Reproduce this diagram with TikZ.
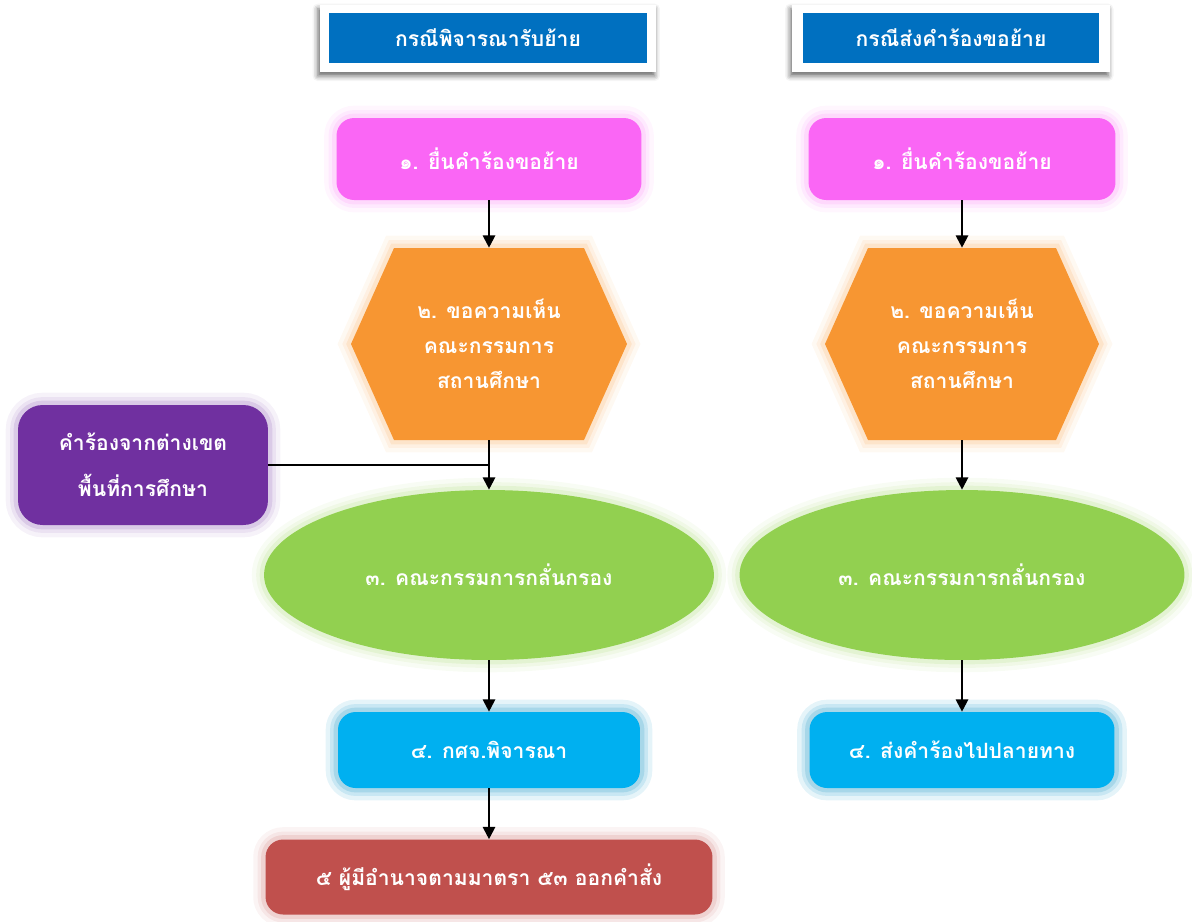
\documentclass[tikz,border=0pt]{standalone}
\usepackage{fontspec}
\newfontfamily\thaifont[Script=Thai]{Loma}
\usetikzlibrary{shapes.geometric,arrows.meta,shadows.blur}
\definecolor{headblue}{RGB}{0,112,192}
\definecolor{stepone}{RGB}{250,102,245}
\definecolor{steptwo}{RGB}{247,150,50}
\definecolor{stepthree}{RGB}{146,208,80}
\definecolor{stepfour}{RGB}{0,176,240}
\definecolor{stepfive}{RGB}{192,80,77}
\definecolor{otherarea}{RGB}{112,48,160}
\definecolor{fourglow}{RGB}{140,190,210}

\begin{document}
\begin{tikzpicture}[x=0.02cm, y=-0.02cm,
    font=\thaifont\bfseries\fontsize{12}{20}\selectfont, text=white,
    halo/.style={preaction={draw=#1, line width=14pt, opacity=.1},
                 preaction={draw=#1, line width=9pt, opacity=.15},
                 preaction={draw=#1, line width=5pt, opacity=.25}},
    headframe/.style={fill=white, blur shadow={shadow xshift=-1pt, shadow yshift=-2.5pt, shadow blur radius=3pt, shadow opacity=60}},
    headbox/.style={fill=headblue, inner sep=0pt},
    box/.style={fill=#1, halo=#1!60, rounded corners=10pt, align=center, inner sep=0pt},
    oval/.style={ellipse, fill=#1, halo=#1!60, inner sep=0pt},
    flow/.style={-{Triangle[width=7pt,length=7pt]}, line width=1.2pt, draw=black}]
    \useasboundingbox (0,0) rectangle (1192,921);

    \node[headframe, minimum width=6.74cm, minimum height=1.34cm] (frameL) at (488,38) {};
    \node[headbox, minimum width=6.38cm, minimum height=1cm] (headL) at (488,38) {กรณีพิจารณารับย้าย};
    \node[headframe, minimum width=6.36cm, minimum height=1.34cm] (frameR) at (951,38) {};
    \node[headbox, minimum width=5.94cm, minimum height=1cm] (headR) at (951,38) {กรณีส่งคำร้องขอย้าย};

    \node[box=stepone, minimum width=6.1cm, minimum height=1.64cm] (oneL) at (489,159) {๑. ยื่นคำร้องขอย้าย};
    \node[box=stepone, minimum width=6.14cm, minimum height=1.64cm] (oneR) at (962,159) {๑. ยื่นคำร้องขอย้าย};

    \fill[steptwo, halo=steptwo!60] (351,344) -- (394,248) -- (584,248) -- (627,344) -- (584,440) -- (394,440) -- cycle;
    \node[minimum width=5.52cm, minimum height=3.84cm, align=center] (twoL) at (489,344) {๒. ขอความเห็น\\คณะกรรมการ\\สถานศึกษา};
    \fill[steptwo, halo=steptwo!60] (825,344) -- (868,248) -- (1056,248) -- (1099,344) -- (1056,440) -- (868,440) -- cycle;
    \node[minimum width=5.5cm, minimum height=3.84cm, align=center] (twoR) at (962,344) {๒. ขอความเห็น\\คณะกรรมการ\\สถานศึกษา};

    \node[box=otherarea, rounded corners=14pt, minimum width=5cm, minimum height=2.4cm] (other) at (143,465) {คำร้องจากต่างเขต\\[6pt]พื้นที่การศึกษา};
    \coordinate (joinL) at (489,465);

    \node[oval=stepthree, minimum width=9cm, minimum height=3.4cm] (threeL) at (489,575) {๓. คณะกรรมการกลั่นกรอง};
    \node[oval=stepthree, minimum width=8.9cm, minimum height=3.4cm] (threeR) at (962,575) {๓. คณะกรรมการกลั่นกรอง};

    \node[box=stepfour, halo=fourglow, minimum width=6.04cm, minimum height=1.52cm] (fourL) at (489,750) {๔. กศจ.พิจารณา};
    \node[box=stepfour, halo=fourglow, minimum width=6.1cm, minimum height=1.52cm] (fourR) at (962,750) {๔. ส่งคำร้องไปปลายทาง};

    \node[box=stepfive, minimum width=8.94cm, minimum height=1.5cm] (five) at (489,877) {๕ ผู้มีอำนาจตามมาตรา ๕๓ ออกคำสั่ง};

    \draw[flow] (oneL) -- (twoL);
    \draw[flow] (twoL) -- (threeL);
    \draw[line width=1pt] (other) -- (joinL);
    \draw[flow] (threeL) -- (fourL);
    \draw[flow] (fourL) -- (five);

    \draw[flow] (oneR) -- (twoR);
    \draw[flow] (twoR) -- (threeR);
    \draw[flow] (threeR) -- (fourR);
\end{tikzpicture}
\end{document}
